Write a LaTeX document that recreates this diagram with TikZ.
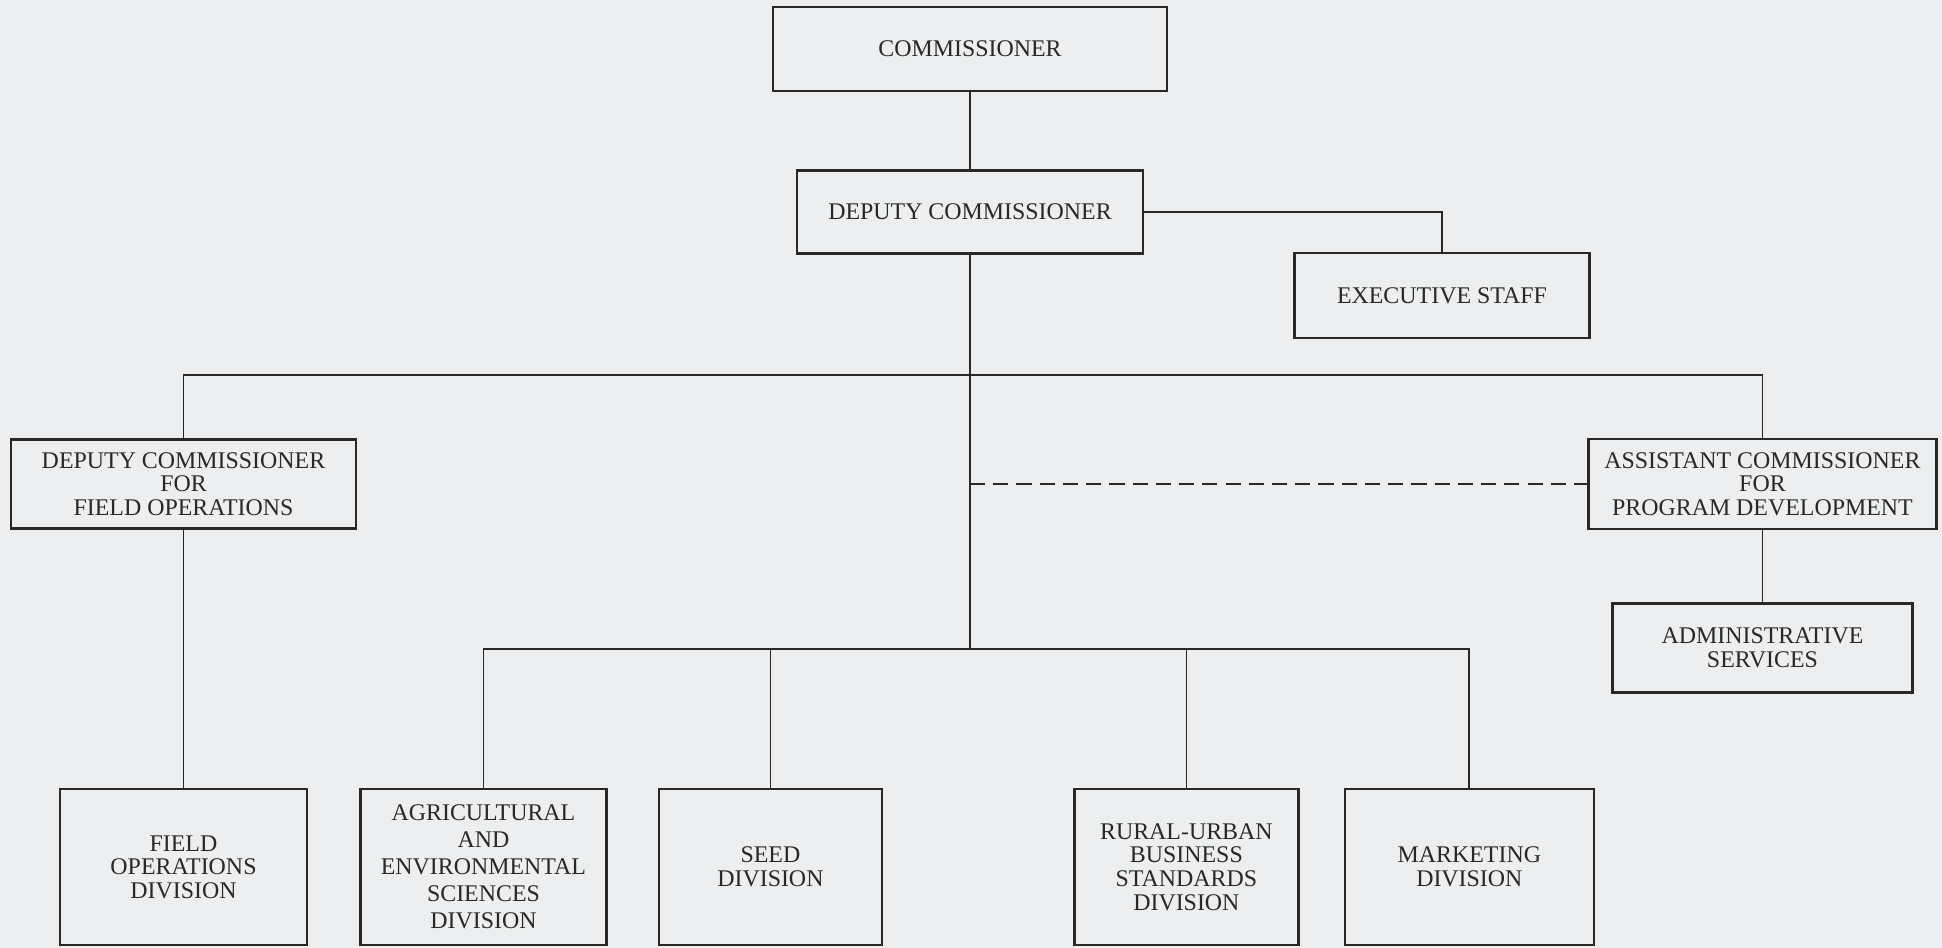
\documentclass[tikz,border=0pt]{standalone}
\usepackage{fontspec}
\setmainfont{Liberation Serif}
\usetikzlibrary{positioning}
\definecolor{paper}{RGB}{236,238,239}
\definecolor{ink}{RGB}{40,40,40}

\begin{document}
\begin{tikzpicture}[
        node distance=1cm,
        box/.style={rectangle, draw=ink, text=ink, line width=1.4pt, align=center, inner sep=2pt, font=\fontsize{13.6}{13.4}\selectfont},
        unit/.style={box, minimum height=3.12cm},
        link/.style={draw=ink, line width=1pt}
    ]
        \fill[paper] (0,0) rectangle (38.84,-18.96);

        \node[box, minimum width=7.88cm, minimum height=1.68cm] (comm) at (19.40,-0.98) {COMMISSIONER};
        \node[box, minimum width=6.92cm, minimum height=1.66cm, below=1.54cm of comm] (dep) {DEPUTY COMMISSIONER};
        \node[box, minimum width=5.9cm, minimum height=1.7cm, below right=-0.06cm and 2.98cm of dep] (exec) {EXECUTIVE STAFF};

        \node[unit, minimum width=4.94cm] (fod) at (3.67,-17.34) {FIELD\\OPERATIONS\\DIVISION};
        \node[unit, minimum width=4.92cm, right=1.02cm of fod, font=\fontsize{13.6}{15.4}\selectfont] (aes) {AGRICULTURAL\\AND\\ENVIRONMENTAL\\SCIENCES\\DIVISION};
        \node[unit, minimum width=4.46cm, right=1.0cm of aes] (seed) {SEED\\DIVISION};
        \node[unit, minimum width=4.48cm, right=3.8cm of seed] (rub) {RURAL-URBAN\\BUSINESS\\STANDARDS\\DIVISION};
        \node[unit, minimum width=4.98cm, right=0.88cm of rub] (mkt) {MARKETING\\DIVISION};

        \node[box, minimum width=6.9cm, minimum height=1.78cm, above=5.16cm of fod] (dcfo) {DEPUTY COMMISSIONER\\FOR\\FIELD OPERATIONS};
        \node[box, minimum width=6.96cm, minimum height=1.8cm, right=24.6cm of dcfo] (acpd) {ASSISTANT COMMISSIONER\\FOR\\PROGRAM DEVELOPMENT};
        \node[box, minimum width=6.0cm, minimum height=1.78cm, below=1.44cm of acpd] (admin) {ADMINISTRATIVE\\SERVICES};

        \coordinate[below=2.4cm of dep] (topbus);
        \coordinate[below=7.88cm of dep] (lowbus);

        \draw[link] (comm) -- (dep);
        \draw[link] (dep.east) -| (exec.north);
        \draw[link] (dep.south) -- (lowbus);
        \draw[link] (dcfo.north) |- (topbus) -| (acpd.north);
        \draw[link] (dcfo.south) -- (dcfo.south |- fod.north);
        \draw[link] (acpd.south) -- (acpd.south |- admin.north);
        \draw[link, line width=0.8pt, dash pattern=on 8.6pt off 4.62pt] (acpd.west -| dep.south) -- (acpd.west);
        \draw[link] (aes.north) |- (lowbus) -| (mkt.north);
        \draw[link] (seed.north) -- (seed.north |- lowbus);
        \draw[link] (rub.north) -- (rub.north |- lowbus);
    \end{tikzpicture}
\end{document}
